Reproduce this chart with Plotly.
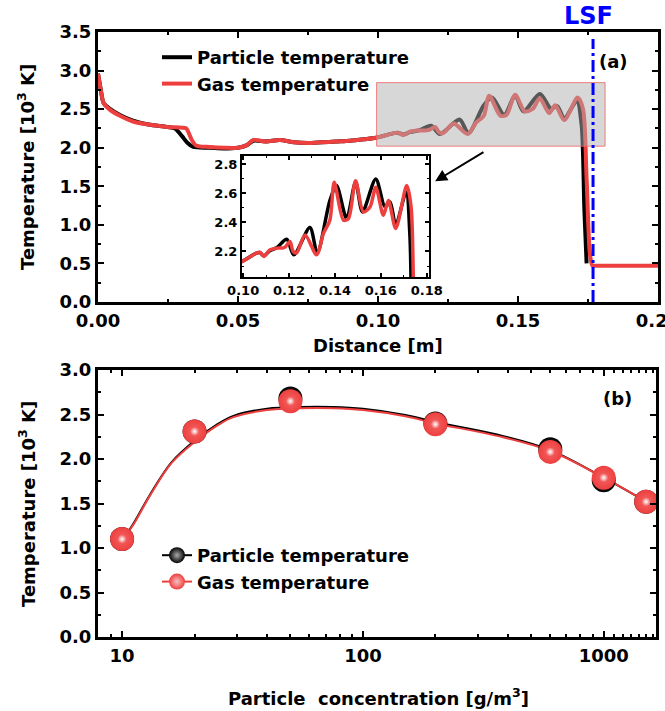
import plotly.graph_objects as go

# ---------------- Panel (a) data ----------------
dist_gas = [0.0, 0.001, 0.002, 0.004, 0.008, 0.0125, 0.018, 0.0246, 0.030, 0.0315, 0.0335, 0.035,
            0.040, 0.045, 0.050, 0.053, 0.0555, 0.060, 0.065, 0.070, 0.075, 0.080, 0.085, 0.090,
            0.095, 0.0993, 0.1058, 0.1073, 0.109, 0.1116, 0.1146, 0.1175, 0.1185, 0.1204, 0.1218,
            0.1233, 0.127, 0.132, 0.135, 0.1378, 0.1397, 0.1437, 0.1459, 0.149, 0.1524, 0.1553,
            0.1578, 0.1611, 0.1633, 0.1665, 0.1713, 0.1732, 0.1745, 0.1757, 0.1766, 0.1775, 0.190, 0.200]
temp_gas = [2.96, 2.75, 2.58, 2.50, 2.41, 2.34, 2.30, 2.27, 2.26, 2.25, 2.10, 2.03,
            2.01, 2.00, 2.00, 2.03, 2.10, 2.08, 2.10, 2.07, 2.06, 2.07, 2.08, 2.09,
            2.11, 2.13, 2.189, 2.195, 2.166, 2.211, 2.223, 2.225, 2.234, 2.268, 2.20,
            2.19, 2.313, 2.177, 2.324, 2.415, 2.675, 2.415, 2.426, 2.686, 2.471, 2.505,
            2.64, 2.449, 2.55, 2.358, 2.652, 2.505, 1.60, 0.62, 0.47, 0.47, 0.47, 0.47]

dist_part = [0.0, 0.001, 0.002, 0.004, 0.008, 0.0125, 0.018, 0.0246, 0.0275, 0.030, 0.032, 0.034,
             0.040, 0.045, 0.050, 0.053, 0.0555, 0.060, 0.065, 0.070, 0.075, 0.080, 0.085, 0.090,
             0.095, 0.0993, 0.1058, 0.1073, 0.109, 0.1116, 0.1146, 0.119, 0.1221, 0.1291, 0.1323,
             0.1378, 0.1407, 0.1451, 0.149, 0.152, 0.1578, 0.1618, 0.164, 0.1665, 0.171, 0.1727,
             0.1737, 0.1745]
temp_part = [2.96, 2.75, 2.58, 2.51, 2.42, 2.35, 2.30, 2.27, 2.25, 2.15, 2.06, 2.01,
             2.00, 1.99, 2.00, 2.03, 2.09, 2.08, 2.10, 2.07, 2.06, 2.07, 2.08, 2.09,
             2.11, 2.13, 2.189, 2.192, 2.17, 2.205, 2.225, 2.284, 2.177, 2.365, 2.189,
             2.55, 2.652, 2.426, 2.675, 2.471, 2.697, 2.505, 2.54, 2.38, 2.607, 2.30,
             1.20, 0.50]

lsf_pos = 0.1768

# ---------------- Panel (b) data ----------------
conc = [10, 20, 50, 200, 600, 1000, 1500]
part_pts = [1.10, 2.31, 2.68, 2.40, 2.11, 1.76, 1.52]
gas_pts = [1.10, 2.31, 2.65, 2.39, 2.08, 1.79, 1.52]

fit_x = [10, 11, 13, 16, 20, 25, 29, 40, 55, 75, 100, 150, 200, 360, 600, 1000, 1500]
fit_gas = [1.10, 1.24, 1.58, 1.95, 2.19, 2.38, 2.47, 2.55, 2.57, 2.57, 2.55, 2.48, 2.40, 2.26, 2.09, 1.79, 1.52]
fit_part = [1.10, 1.25, 1.59, 1.96, 2.205, 2.395, 2.485, 2.565, 2.585, 2.585, 2.565, 2.495, 2.415, 2.275, 2.10, 1.79, 1.52]

RED = "#ee3f3f"
BLACK = "#000000"
FONT = "DejaVu Sans, sans-serif"
W, H = 665, 711

def px(x):
    return x / W

def py(y):
    return 1 - y / H

def bfont(size, color="black"):
    return dict(family=FONT, size=size, color=color, weight="bold")

fig = go.Figure()

# Panel (a) main
fig.add_trace(go.Scatter(x=dist_part, y=temp_part, mode="lines", name="Particle temperature",
                         line=dict(color=BLACK, width=4, shape="spline", smoothing=0.8),
                         xaxis="x", yaxis="y", legend="legend"))
fig.add_trace(go.Scatter(x=dist_gas, y=temp_gas, mode="lines", name="Gas temperature",
                         line=dict(color=RED, width=4, shape="spline", smoothing=0.8),
                         xaxis="x", yaxis="y", legend="legend"))

# Inset
fig.add_trace(go.Scatter(x=dist_part, y=temp_part, mode="lines", showlegend=False,
                         line=dict(color=BLACK, width=3.5, shape="spline", smoothing=0.8),
                         xaxis="x3", yaxis="y3"))
fig.add_trace(go.Scatter(x=dist_gas, y=temp_gas, mode="lines", showlegend=False,
                         line=dict(color=RED, width=3.5, shape="spline", smoothing=0.8),
                         xaxis="x3", yaxis="y3"))

# Panel (b)
fig.add_trace(go.Scatter(x=fit_x, y=fit_part, mode="lines", showlegend=False,
                         line=dict(color=BLACK, width=2, shape="spline"),
                         xaxis="x2", yaxis="y2"))
fig.add_trace(go.Scatter(x=fit_x, y=fit_gas, mode="lines", showlegend=False,
                         line=dict(color=RED, width=2, shape="spline"),
                         xaxis="x2", yaxis="y2"))
fig.add_trace(go.Scatter(x=conc, y=part_pts, mode="markers", showlegend=False,
                         marker=dict(color=BLACK, size=24, line=dict(width=0),
                                     gradient=dict(type="radial", color="#444444")),
                         xaxis="x2", yaxis="y2"))
fig.add_trace(go.Scatter(x=conc, y=part_pts, mode="markers", showlegend=False,
                         marker=dict(color="rgba(255,255,255,0)", size=9, line=dict(width=0),
                                     gradient=dict(type="radial", color="#ffffff")),
                         xaxis="x2", yaxis="y2", hoverinfo="skip"))
fig.add_trace(go.Scatter(x=conc, y=gas_pts, mode="markers", showlegend=False,
                         marker=dict(color=RED, size=24, line=dict(width=0),
                                     gradient=dict(type="radial", color="#f36464")),
                         xaxis="x2", yaxis="y2"))
fig.add_trace(go.Scatter(x=conc, y=gas_pts, mode="markers", showlegend=False,
                         marker=dict(color="rgba(255,255,255,0)", size=9, line=dict(width=0),
                                     gradient=dict(type="radial", color="#ffffff")),
                         xaxis="x2", yaxis="y2", hoverinfo="skip"))
# legend entries for panel (b)
fig.add_trace(go.Scatter(x=[None], y=[None], mode="lines+markers", name="Particle temperature",
                         line=dict(color=BLACK, width=2),
                         marker=dict(color=BLACK, size=16, line=dict(width=0),
                                     gradient=dict(type="radial", color="#aaaaaa")),
                         xaxis="x2", yaxis="y2", legend="legend2"))
fig.add_trace(go.Scatter(x=[None], y=[None], mode="lines+markers", name="Gas temperature",
                         line=dict(color=RED, width=2),
                         marker=dict(color=RED, size=16, line=dict(width=0),
                                     gradient=dict(type="radial", color="#f9c0c0")),
                         xaxis="x2", yaxis="y2", legend="legend2"))

axis_common = dict(showline=True, linewidth=3, linecolor="black", mirror="allticks",
                   ticks="inside", tickwidth=2, ticklen=6, tickcolor="black",
                   showgrid=False, zeroline=False, tickfont=bfont(18), automargin=False,
                   ticklabeloverflow="allow")

fig.update_layout(
    width=W, height=H,
    margin=dict(l=0, r=0, t=0, b=0),
    paper_bgcolor="white", plot_bgcolor="white",
    font=bfont(18),
    xaxis=dict(domain=[px(98), px(658)], range=[0, 0.2], dtick=0.05, tickformat=".2f",
               minor=dict(ticks="inside", ticklen=3, tickwidth=2, dtick=0.025, tickcolor="black"),
               anchor="y", **axis_common),
    yaxis=dict(domain=[py(302), py(32)], range=[0, 3.5], dtick=0.5, tickformat=".1f",
               minor=dict(ticks="inside", ticklen=3, tickwidth=2, dtick=0.25, tickcolor="black"),
               anchor="x", **axis_common),
    xaxis2=dict(domain=[px(98), px(656)], type="log", range=[0.9, 3.217],
                tickvals=[10, 100, 1000], ticktext=["10", "100", "1000"],
                minor=dict(ticks="inside", ticklen=3, tickwidth=2, tickcolor="black",
                           tickvals=[8, 9, 20, 30, 40, 50, 60, 70, 80, 90,
                                     200, 300, 400, 500, 600, 700, 800, 900, 1100, 1200, 1300, 1400, 1500, 1600]),
                anchor="y2", **axis_common),
    yaxis2=dict(domain=[py(637), py(370)], range=[0, 3.0], dtick=0.5, tickformat=".1f",
                minor=dict(ticks="inside", ticklen=3, tickwidth=2, dtick=0.25, tickcolor="black"),
                anchor="x2", **axis_common),
    xaxis3=dict(domain=[px(242), px(429)], range=[0.0995, 0.181], dtick=0.02, tickformat=".2f",
                showline=True, linewidth=2, linecolor="black", mirror="allticks",
                ticks="inside", tickwidth=1.5, ticklen=4, tickcolor="black",
                minor=dict(ticks="inside", ticklen=2, tickwidth=1, dtick=0.01, tickcolor="black"),
                showgrid=False, zeroline=False, anchor="y3", automargin=False,
                ticklabeloverflow="allow", tickfont=bfont(13)),
    yaxis3=dict(domain=[py(277), py(156)], range=[2.025, 2.855], dtick=0.2, tickformat=".1f",
                showline=True, linewidth=2, linecolor="black", mirror="allticks",
                ticks="inside", tickwidth=1.5, ticklen=4, tickcolor="black",
                minor=dict(ticks="inside", ticklen=2, tickwidth=1, dtick=0.1, tickcolor="black"),
                showgrid=False, zeroline=False, anchor="x3", automargin=False,
                ticklabeloverflow="allow", tickfont=bfont(13)),
    legend=dict(x=px(157), y=py(39), xanchor="left", yanchor="top", bgcolor="rgba(0,0,0,0)",
                font=bfont(18), tracegroupgap=0),
    legend2=dict(x=px(157), y=py(537), xanchor="left", yanchor="top", bgcolor="rgba(0,0,0,0)",
                 font=bfont(18), tracegroupgap=0),
)

# gray highlight box
fig.add_shape(type="rect", xref="x", yref="y", x0=0.0995, x1=0.1811, y0=2.02, y1=2.844,
              fillcolor="rgba(175,175,175,0.5)", line=dict(color="rgba(240,100,100,0.8)", width=1),
              layer="above")
# LSF line
fig.add_shape(type="line", xref="x", yref="y", x0=lsf_pos, x1=lsf_pos, y0=0, y1=3.41,
              line=dict(color="#0000ff", width=3, dash="12px,4px,3px,4px"), layer="above")

def note(text, x, y, size=18, color="black", angle=0):
    return dict(text=text, x=x, y=y, xref="paper", yref="paper", showarrow=False,
                xanchor="center", yanchor="middle", textangle=angle, font=bfont(size, color))

ann = [
    note("LSF", px(588), py(16), size=24, color="#0000ff"),
    note("(a)", px(613), py(62)),
    note("(b)", px(617), py(398)),
    note("Distance [m]", px(378), py(345)),
    note("Particle  concentration [g/m<sup>3</sup>]", px(378), py(697)),
    note("Temperature [10<sup>3</sup> K]", px(26), py(167), angle=-90),
    note("Temperature [10<sup>3</sup> K]", px(27), py(504), angle=-90),
]
# arrow toward inset
ann.append(dict(text="", x=0.1204, y=1.564, xref="x", yref="y", ax=0.1382, ay=1.954,
                axref="x", ayref="y", showarrow=True, arrowhead=2, arrowsize=1.2,
                arrowwidth=2, arrowcolor="black"))
fig.update_layout(annotations=ann)

fig.write_html("out.html")
